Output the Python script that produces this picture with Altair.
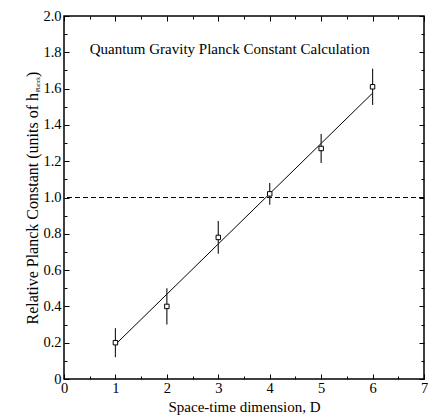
import altair as alt
import pandas as pd

# ---- data ----
dims = [1, 2, 3, 4, 5, 6]
planck = [0.20, 0.40, 0.78, 1.02, 1.27, 1.61]
errs = [0.08, 0.10, 0.09, 0.06, 0.08, 0.10]
fit_x = [1, 6]
fit_y = [0.19, 1.575]
ref_level = [1.0]

x_major = [0, 1, 2, 3, 4, 5, 6, 7]
x_minor = [0.5, 1.5, 2.5, 3.5, 4.5, 5.5, 6.5]
y_major = [0.0, 0.2, 0.4, 0.6, 0.8, 1.0, 1.2, 1.4, 1.6, 1.8, 2.0]
y_minor = [0.1, 0.3, 0.5, 0.7, 0.9, 1.1, 1.3, 1.5, 1.7, 1.9]

annot_text = ["Quantum Gravity Planck Constant Calculation"]
annot_x = [0.5]
annot_y = [1.82]

x_title = "Space-time dimension, D"
y_title_main = ["Relative Planck Constant (units of h"]
y_title_sub = ["Planck"]
y_title_end = [")"]

FONT = "Liberation Serif"
W, H = 360, 363

pts = pd.DataFrame({"D": dims, "h": planck, "e": errs})
pts["lo"] = pts["h"] - pts["e"]
pts["hi"] = pts["h"] + pts["e"]
fit = pd.DataFrame({"D": fit_x, "h": fit_y})
ref = pd.DataFrame({"r": ref_level})
ann = pd.DataFrame({"x": annot_x, "y": annot_y, "t": annot_text})

xs = alt.Scale(domain=[0, 7], nice=False, zero=False)
ys = alt.Scale(domain=[0, 2], nice=False, zero=False)


def axis(orient, values, size, labels=False, **kw):
    return alt.Axis(orient=orient, values=values, tickSize=size, offset=-size,
                    domain=False, grid=False, labels=labels, ticks=True,
                    tickColor="black", tickWidth=1, labelFlush=False,
                    labelFont=FONT, labelFontSize=14.5, labelColor="black",
                    **kw)


def axis_layer(xax, yax, xtitle=None):
    xenc = alt.X("D:Q", scale=xs, axis=xax, title=xtitle) if xtitle else alt.X("D:Q", scale=xs, axis=xax, title=None)
    return alt.Chart(pts).mark_point(opacity=0).encode(
        x=xenc, y=alt.Y("h:Q", scale=ys, axis=yax, title=None))


axA = axis_layer(
    axis("bottom", x_major, 5, labels=True, labelPadding=2,
         titleFont=FONT, titleFontSize=15, titleFontWeight="normal",
         titleColor="black", titlePadding=5),
    axis("left", y_major, 5, labels=True, labelPadding=3,
         labelExpr="datum.value == 0 ? '0' : format(datum.value, '.1f')"),
    xtitle=x_title)
axB = axis_layer(axis("bottom", x_minor, 3), axis("left", y_minor, 3))
axC = axis_layer(axis("top", x_major, 5), axis("right", y_major, 5))
axD = axis_layer(axis("top", x_minor, 3), axis("right", y_minor, 3))

refline = alt.Chart(ref).mark_rule(color="black", strokeWidth=1, strokeDash=[5, 3]).encode(
    y=alt.Y("r:Q", scale=ys, axis=None))

fitline = alt.Chart(fit).mark_line(color="black", strokeWidth=1).encode(
    x=alt.X("D:Q", scale=xs, axis=None), y=alt.Y("h:Q", scale=ys, axis=None))

bars = alt.Chart(pts).mark_rule(color="#222222", strokeWidth=1.2).encode(
    x=alt.X("D:Q", scale=xs, axis=None),
    y=alt.Y("lo:Q", scale=ys, axis=None), y2="hi:Q")

squares = alt.Chart(pts).mark_point(shape="square", filled=True, fill="white",
                                    stroke="black", strokeWidth=1, size=20, opacity=1).encode(
    x=alt.X("D:Q", scale=xs, axis=None), y=alt.Y("h:Q", scale=ys, axis=None))

annot = alt.Chart(ann).mark_text(font=FONT, fontSize=15, align="left", baseline="middle",
                                 color="black").encode(
    x=alt.X("x:Q", scale=xs, axis=None), y=alt.Y("y:Q", scale=ys, axis=None), text="t:N")

yt_main = alt.Chart(pd.DataFrame({"t": y_title_main})).mark_text(
    font=FONT, fontSize=16, angle=270, align="right", baseline="alphabetic", color="black").encode(
    x=alt.value(-26), y=alt.value(77), text="t:N")
yt_sub = alt.Chart(pd.DataFrame({"t": y_title_sub})).mark_text(
    font=FONT, fontSize=5.5, angle=270, align="left", baseline="alphabetic", color="black").encode(
    x=alt.value(-24), y=alt.value(76), text="t:N")
yt_end = alt.Chart(pd.DataFrame({"t": y_title_end})).mark_text(
    font=FONT, fontSize=16, angle=270, align="left", baseline="alphabetic", color="black").encode(
    x=alt.value(-26), y=alt.value(61), text="t:N")

chart = alt.layer(
    axA, axB, axC, axD, refline, fitline, bars, squares, annot, yt_main, yt_sub, yt_end
).resolve_axis(x="independent", y="independent").properties(
    width=W, height=H,
    autosize=alt.AutoSizeParams(type="none"),
    padding={"left": 64, "top": 16, "right": 4, "bottom": 36},
    background="white",
).configure_view(stroke="black", strokeWidth=1.5)

chart.save("out.html", embed_options={"renderer": "svg", "actions": False})
